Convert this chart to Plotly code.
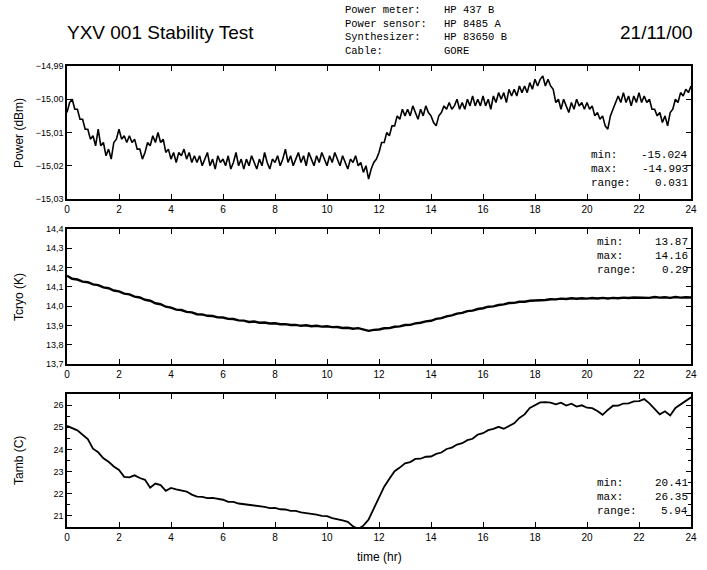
import plotly.graph_objects as go

# ---------------- data ----------------
hours_power = [round(i * 0.1, 1) for i in range(241)]
power_dbm = [
    -15.004, -15.001, -15.000, -15.003, -15.003, -15.006, -15.006, -15.009, -15.009, -15.012,
    -15.011, -15.014, -15.009, -15.014, -15.013, -15.017, -15.015, -15.018, -15.013, -15.012,
    -15.009, -15.012, -15.011, -15.013, -15.011, -15.013, -15.012, -15.015, -15.015, -15.018,
    -15.016, -15.013, -15.014, -15.011, -15.013, -15.010, -15.013, -15.012, -15.016, -15.015,
    -15.018, -15.016, -15.019, -15.016, -15.017, -15.015, -15.018, -15.016, -15.019, -15.017,
    -15.019, -15.017, -15.020, -15.018, -15.016, -15.020, -15.018, -15.021, -15.017, -15.019,
    -15.018, -15.020, -15.017, -15.021, -15.019, -15.016, -15.020, -15.018, -15.021, -15.018,
    -15.020, -15.017, -15.019, -15.021, -15.018, -15.020, -15.016, -15.019, -15.021, -15.018,
    -15.019, -15.017, -15.020, -15.018, -15.015, -15.019, -15.017, -15.020, -15.018, -15.016,
    -15.019, -15.017, -15.020, -15.016, -15.018, -15.020, -15.017, -15.019, -15.016, -15.018,
    -15.020, -15.017, -15.019, -15.016, -15.018, -15.020, -15.017, -15.019, -15.021, -15.018,
    -15.019, -15.017, -15.020, -15.019, -15.022, -15.020, -15.024, -15.021, -15.019, -15.018,
    -15.016, -15.013, -15.013, -15.010, -15.011, -15.008, -15.008, -15.005, -15.006, -15.003,
    -15.005, -15.003, -15.005, -15.002, -15.004, -15.006, -15.003, -15.005, -15.002, -15.004,
    -15.005, -15.007, -15.008, -15.005, -15.004, -15.002, -15.003, -15.001, -15.003, -15.002,
    -15.000, -15.003, -15.001, -15.003, -15.000, -15.002, -14.999, -15.002, -15.000, -15.002,
    -14.999, -15.002, -15.000, -15.003, -14.999, -15.001, -14.998, -15.000, -14.998, -15.001,
    -14.997, -14.999, -14.997, -14.999, -14.996, -14.998, -14.996, -14.998, -14.995, -14.997,
    -14.994, -14.996, -14.994, -14.993, -14.996, -14.994, -14.996, -14.997, -15.001, -15.000,
    -15.003, -15.000, -15.002, -15.004, -15.001, -15.003, -15.000, -15.002, -15.001, -15.003,
    -15.001, -15.003, -15.002, -15.005, -15.004, -15.006, -15.005, -15.008, -15.009, -15.005,
    -15.003, -15.001, -14.999, -15.001, -14.998, -15.001, -14.999, -15.002, -14.999, -15.001,
    -14.998, -15.001, -14.999, -15.001, -15.000, -15.003, -15.003, -15.005, -15.004, -15.007,
    -15.005, -15.008, -15.004, -15.003, -15.000, -15.001, -14.998, -14.999, -14.997, -14.998,
    -14.996,
]

hours_temp = [round(i * 0.2, 1) for i in range(121)]
tcryo_k = [
    14.158, 14.142, 14.138, 14.127, 14.124,
    14.113, 14.109, 14.097, 14.093, 14.081,
    14.077, 14.065, 14.061, 14.049, 14.045,
    14.033, 14.028, 14.015, 14.010, 13.997,
    13.992, 13.982, 13.980, 13.970, 13.968,
    13.958, 13.957, 13.950, 13.949, 13.942,
    13.941, 13.934, 13.933, 13.926, 13.925,
    13.918, 13.920, 13.914, 13.915, 13.910,
    13.911, 13.906, 13.907, 13.902, 13.903,
    13.898, 13.901, 13.896, 13.898, 13.894,
    13.896, 13.891, 13.892, 13.887, 13.888,
    13.883, 13.886, 13.880, 13.872, 13.877,
    13.879, 13.885, 13.886, 13.893, 13.895,
    13.902, 13.903, 13.911, 13.914, 13.921,
    13.924, 13.934, 13.938, 13.947, 13.952,
    13.961, 13.965, 13.974, 13.977, 13.985,
    13.989, 13.997, 13.999, 14.006, 14.009,
    14.016, 14.017, 14.023, 14.023, 14.028,
    14.029, 14.033, 14.032, 14.036, 14.035,
    14.039, 14.037, 14.041, 14.038, 14.041,
    14.039, 14.042, 14.040, 14.043, 14.040,
    14.043, 14.041, 14.044, 14.042, 14.045,
    14.044, 14.046, 14.043, 14.047, 14.044,
    14.046, 14.043, 14.047, 14.044, 14.046,
    14.045,
]

tamb_c = [
    25.06, 24.97, 24.86, 24.66, 24.47,
    24.03, 23.87, 23.60, 23.44, 23.23,
    23.07, 22.76, 22.74, 22.83, 22.71,
    22.63, 22.27, 22.46, 22.39, 22.13,
    22.26, 22.20, 22.16, 22.10, 21.96,
    21.87, 21.86, 21.80, 21.81, 21.76,
    21.73, 21.63, 21.63, 21.56, 21.53,
    21.49, 21.49, 21.43, 21.41, 21.35,
    21.36, 21.30, 21.29, 21.23, 21.23,
    21.16, 21.13, 21.08, 21.06, 21.00,
    20.99, 20.90, 20.86, 20.80, 20.73,
    20.53, 20.41, 20.56, 20.84, 21.32,
    21.78, 22.32, 22.68, 23.02, 23.18,
    23.37, 23.43, 23.57, 23.58, 23.67,
    23.68, 23.80, 23.86, 24.02, 24.08,
    24.22, 24.28, 24.42, 24.48, 24.67,
    24.73, 24.87, 24.93, 25.02, 24.93,
    25.07, 25.18, 25.42, 25.58, 25.87,
    25.98, 26.12, 26.13, 26.11, 26.03,
    26.11, 25.98, 26.06, 25.93, 25.99,
    25.88, 25.86, 25.73, 25.56, 25.78,
    25.97, 25.98, 26.07, 26.08, 26.17,
    26.18, 26.27, 26.08, 25.82, 25.58,
    25.72, 25.53, 25.87, 26.03, 26.22,
    26.35,
]

x_ticks = list(range(0, 25, 2))
header_labels = ["Power meter:", "Power sensor:", "Synthesizer:", "Cable:"]
header_values = ["HP 437 B", "HP 8485 A", "HP 83650 B", "GORE"]
title_text = "YXV 001 Stability Test"
date_text = "21/11/00"
y_titles = ["Power (dBm)", "Tcryo (K)", "Tamb (C)"]

# ---------------- figure ----------------
W, H = 707, 570
L, R, T, B = 67, 10, 66, 43
PW, PH = W - L - R, H - T - B


def px_x(px):
    return (px - L) / PW


def px_y(py):
    return 1 - (py - T) / PH


SANS = "Liberation Sans, Arial, sans-serif"
MONO = "Liberation Mono, Courier New, monospace"

fig = go.Figure()
series = [
    (hours_power, power_dbm, "x", "y", 1.6),
    (hours_temp, tcryo_k, "x2", "y2", 2.4),
    (hours_temp, tamb_c, "x3", "y3", 1.8),
]
for xs, ys, xa, ya, lw in series:
    fig.add_trace(go.Scatter(x=xs, y=ys, mode="lines", xaxis=xa, yaxis=ya,
                             line=dict(color="black", width=lw), showlegend=False,
                             hoverinfo="skip"))

panels = [(66, 199), (229, 364), (394, 527)]
axis_common = dict(showline=True, linecolor="black", linewidth=1.5, mirror="ticks",
                   ticks="inside", ticklen=5, tickwidth=1.2, tickcolor="black",
                   showgrid=False, zeroline=False)

yspecs = [
    dict(range=[-15.03, -14.99], tickvals=[-15.03, -15.02, -15.01, -15.00, -14.99], tickformat=".2f"),
    dict(range=[13.7, 14.4], tick0=13.7, dtick=0.1, tickformat=".1f"),
    dict(range=[20.5, 26.5], tick0=21, dtick=1, tickformat="d",
         minor=dict(ticks="inside", ticklen=3, tickwidth=1, tickcolor="black", dtick=0.5, tick0=20.5)),
]

layout = dict(width=W, height=H, margin=dict(l=L, r=R, t=T, b=B),
              plot_bgcolor="white", paper_bgcolor="white",
              separators=", ", showlegend=False,
              font=dict(family=SANS, color="black"))

for i, ((top, bot), ys) in enumerate(zip(panels, yspecs)):
    sfx = "" if i == 0 else str(i + 1)
    dom = [px_y(bot), px_y(top)]
    layout["xaxis" + sfx] = dict(domain=[0, 1], range=[0, 24], tickvals=x_ticks,
                                 anchor="y" + sfx,
                                 tickfont=dict(family=SANS, size=10), **axis_common)
    layout["yaxis" + sfx] = dict(domain=dom, anchor="x" + sfx,
                                 tickfont=dict(family=SANS, size=9), **axis_common, **ys)

fig.update_layout(**layout)

ann = []


def add_text(text, px, py, size, family, xanchor="left", angle=0):
    ann.append(dict(text=text, xref="paper", yref="paper", x=px_x(px), y=px_y(py),
                    xanchor=xanchor, yanchor="middle", textangle=angle, showarrow=False,
                    font=dict(family=family, size=size, color="black")))


add_text(title_text, 65, 33, 19, SANS)
add_text(date_text, 701, 33, 19, SANS, xanchor="right")
for k, (lab, val) in enumerate(zip(header_labels, header_values)):
    yy = 10 + k * 13.6
    add_text(lab, 346, yy, 10.5, MONO)
    add_text(val, 446, yy, 10.5, MONO)

for (top, bot), t in zip(panels, y_titles):
    add_text(t, 18, (top + bot) / 2, 12, SANS, xanchor="center", angle=-90)

add_text("time (hr)", 382, 557, 12, SANS, xanchor="center")

stats_fmt = ["{:.3f}", "{:.2f}", "{:.2f}"]
stats_top = [155, 242, 483]
stats_left = [594, 600, 600]
for vals, fmt, ty, lx in zip([power_dbm, tcryo_k, tamb_c], stats_fmt, stats_top, stats_left):
    mn, mx = min(vals), max(vals)
    rows = [("min:", fmt.format(mn)), ("max:", fmt.format(mx)), ("range:", fmt.format(mx - mn))]
    for k, (lab, v) in enumerate(rows):
        yy = ty + k * 13.8
        add_text(lab, lx, yy, 11, MONO)
        add_text(v, 696, yy, 11, MONO, xanchor="right")

fig.update_layout(annotations=ann)
fig.write_html("out.html", post_script="document.body.style.margin='0';",
               config={"displayModeBar": False})
